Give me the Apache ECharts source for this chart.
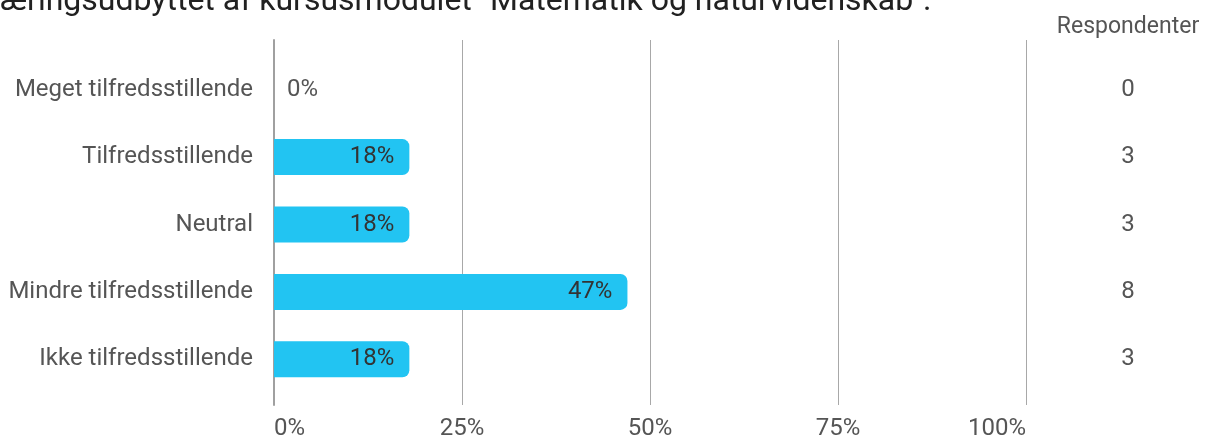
<!DOCTYPE html>
<html><head><meta charset="utf-8">
<script src="https://cdn.jsdelivr.net/npm/echarts@6/dist/echarts.min.js"></script>
<style>html,body{margin:0;padding:0;background:#fff}#c{width:1220px;height:441px}</style>
</head><body><div id="c"></div>
<script>
const titleText = 'æringsudbyttet af kursusmodulet "Matematik og naturvidenskab".';
const categories = ['Meget tilfredsstillende','Tilfredsstillende','Neutral','Mindre tilfredsstillende','Ikke tilfredsstillende'];
const percentValues = [0, 18, 18, 47, 18];
const respondents = [0, 3, 3, 8, 3];
const xTicks = [0, 25, 50, 75, 100];

const chart = echarts.init(document.getElementById('c'));
const FONT = 'Roboto';
const FS = 24;
chart.setOption({
  animation: false,
  textStyle: {fontFamily: FONT},
  graphic: [
    {type: 'text', left: 0, top: -14, style: {text: titleText, fontSize: 32, fontFamily: FONT, fill: '#212121'}},
    {type: 'text', x: 1128, y: 27, style: {text: 'Respondenter', fontSize: 23, fontFamily: FONT, fill: '#555', align: 'center', verticalAlign: 'middle'}}
  ],
  grid: [
    {left: 274, right: 194, top: 40, bottom: 35},
    {left: 274, right: 194, top: 56, bottom: 48}
  ],
  xAxis: [
    {gridIndex: 0, type: 'value', min: 0, max: 100, interval: 25,
     axisLine: {show: false}, axisTick: {show: false},
     splitLine: {lineStyle: {color: '#a8a8a8', width: 1}},
     axisLabel: {formatter: v => xTicks.includes(v) ? v + '%' : '', color: '#555', fontSize: FS, margin: 12,
       alignMinLabel: 'left', alignMaxLabel: 'right'}},
    {gridIndex: 1, type: 'value', min: 0, max: 100, show: false}
  ],
  yAxis: [
    {gridIndex: 0, type: 'category', data: categories, inverse: true, show: true,
     axisLine: {show: true, lineStyle: {color: '#a0a0a0', width: 2}}, axisTick: {show: false},
     axisLabel: {show: false}},
    {gridIndex: 1, type: 'category', data: categories, inverse: true,
     axisLine: {show: false}, axisTick: {show: false},
     axisLabel: {color: '#555', fontSize: FS, margin: 21}},
    {gridIndex: 1, type: 'category', data: respondents.map(String), inverse: true, position: 'right',
     axisLine: {show: false}, axisTick: {show: false},
     axisLabel: {color: '#555', fontSize: FS, margin: 102, align: 'center'}}
  ],
  series: [{
    type: 'bar', xAxisIndex: 1, yAxisIndex: 1, barWidth: 36,
    itemStyle: {color: '#22c4f2', borderRadius: [0, 7, 7, 0]},
    data: percentValues.map(v => v === 0
      ? {value: v, label: {position: 'right', distance: 13, color: '#555'}}
      : {value: v}),
    label: {show: true, position: 'insideRight', distance: 15, fontSize: FS, color: '#333',
      formatter: p => Math.round(p.value) + '%'}
  }]
});
</script></body></html>
